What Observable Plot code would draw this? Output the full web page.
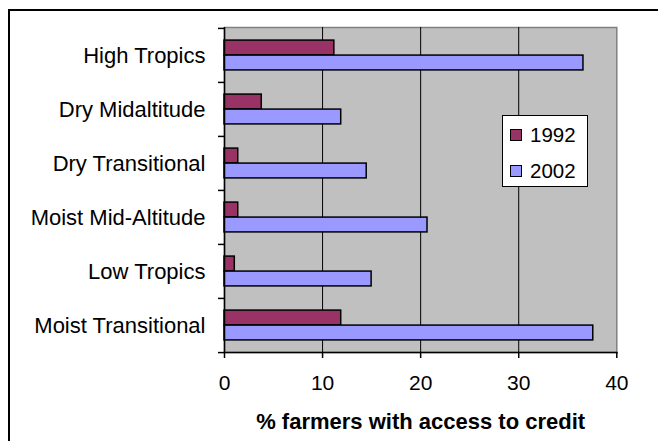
<!DOCTYPE html>
<html>
<head>
<meta charset="utf-8">
<script src="https://cdn.jsdelivr.net/npm/d3@7"></script>
<script src="https://cdn.jsdelivr.net/npm/@observablehq/plot@0.6"></script>
<style>
  body { margin: 0; background: #fff; }
  #chart { position: relative; width: 658px; height: 441px; overflow: hidden; font-family: "Liberation Sans", Arial, sans-serif; }
  #chart svg { position: absolute; left: 0; top: 0; }
  #border { position: absolute; left: 8px; top: 9px; width: 700px; height: 500px; border: 2px solid #000; pointer-events: none; }
  #legend { position: absolute; left: 502px; top: 115px; width: 77px; height: 69px; background: #fff; border: 1px solid #000;
            padding: 1px 0 0 7px; box-sizing: content-box; }
  #legend .row { height: 36px; display: flex; align-items: center; font-size: 20.5px; color: #000; }
  #legend .sw { width: 10px; height: 10px; border: 1px solid #000; margin-right: 8px; }
</style>
</head>
<body>
<div id="chart"></div>
<script>
// Agro-ecological zones, top to bottom
const zones = [
  "High Tropics",
  "Dry Midaltitude",
  "Dry Transitional",
  "Moist Mid-Altitude",
  "Low Tropics",
  "Moist Transitional"
];
// Share of farmers with access to credit (%)
const credit1992 = [11.2, 3.8, 1.4, 1.4, 1.05, 11.9];
const credit2002 = [36.6, 11.9, 14.5, 20.7, 15.0, 37.6];
const years = ["1992", "2002"];
const colors = ["#993366", "#9999ff"];
const xTicks = [0, 10, 20, 30, 40];
const xTitle = "% farmers with access to credit";

const rows1992 = zones.map((zone, i) => ({zone, value: credit1992[i]}));
const rows2002 = zones.map((zone, i) => ({zone, value: credit2002[i]}));

const marginTop = 27, marginBottom = 89;
const H = 441;
const half = (H - marginTop - marginBottom) / zones.length / 2;

const chart = Plot.plot({
  width: 658,
  height: H,
  marginLeft: 224,
  marginRight: 41.7,
  marginTop,
  marginBottom,
  style: {fontFamily: "'Liberation Sans', Arial, sans-serif", fontSize: "20px", color: "#000", background: "transparent"},
  x: {domain: [0, 40], axis: null},
  y: {domain: zones, padding: 0, axis: null},
  marks: [
    Plot.frame({fill: "#c0c0c0", stroke: "#808080", strokeWidth: 1.5}),
    Plot.gridX({ticks: [10, 20, 30], stroke: "#000", strokeOpacity: 1, strokeWidth: 1}),
    Plot.barX(rows1992, {x: "value", y: "zone", fill: colors[0], stroke: "#000", strokeWidth: 1.5,
      insetTop: half - 15, insetBottom: half}),
    Plot.barX(rows2002, {x: "value", y: "zone", fill: colors[1], stroke: "#000", strokeWidth: 1.5,
      insetTop: half, insetBottom: half - 15}),
    Plot.ruleX([0], {stroke: "#000", strokeWidth: 1.5}),
    Plot.frame({anchor: "bottom", stroke: "#000", strokeWidth: 1.5}),
    // category labels
    Plot.axisY({tickSize: 0, tickPadding: 19, fontSize: 22, label: null}),
    // tick marks between categories
    Plot.axisY({tickSize: 6, tickFormat: () => "", dy: -half, label: null, strokeWidth: 1.5}),
    Plot.axisY({ticks: [zones[zones.length - 1]], tickSize: 6, tickFormat: () => "", dy: half, label: null, strokeWidth: 1.5}),
    Plot.axisX({ticks: xTicks, tickSize: 6, tickPadding: 17, fontSize: 21, label: null, strokeWidth: 1.5}),
    Plot.text([xTitle], {frameAnchor: "bottom", lineAnchor: "middle", dy: 69, fontSize: 22, fontWeight: "bold", fill: "#000"})
  ]
});

const root = document.getElementById("chart");
root.appendChild(chart);

const legend = d3.select(root).append("div").attr("id", "legend");
const item = legend.selectAll(".row").data(years).join("div").attr("class", "row");
item.append("div").attr("class", "sw").style("background", (d, i) => colors[i]);
item.append("span").text(d => d);

d3.select(root).append("div").attr("id", "border");
</script>
</body>
</html>
